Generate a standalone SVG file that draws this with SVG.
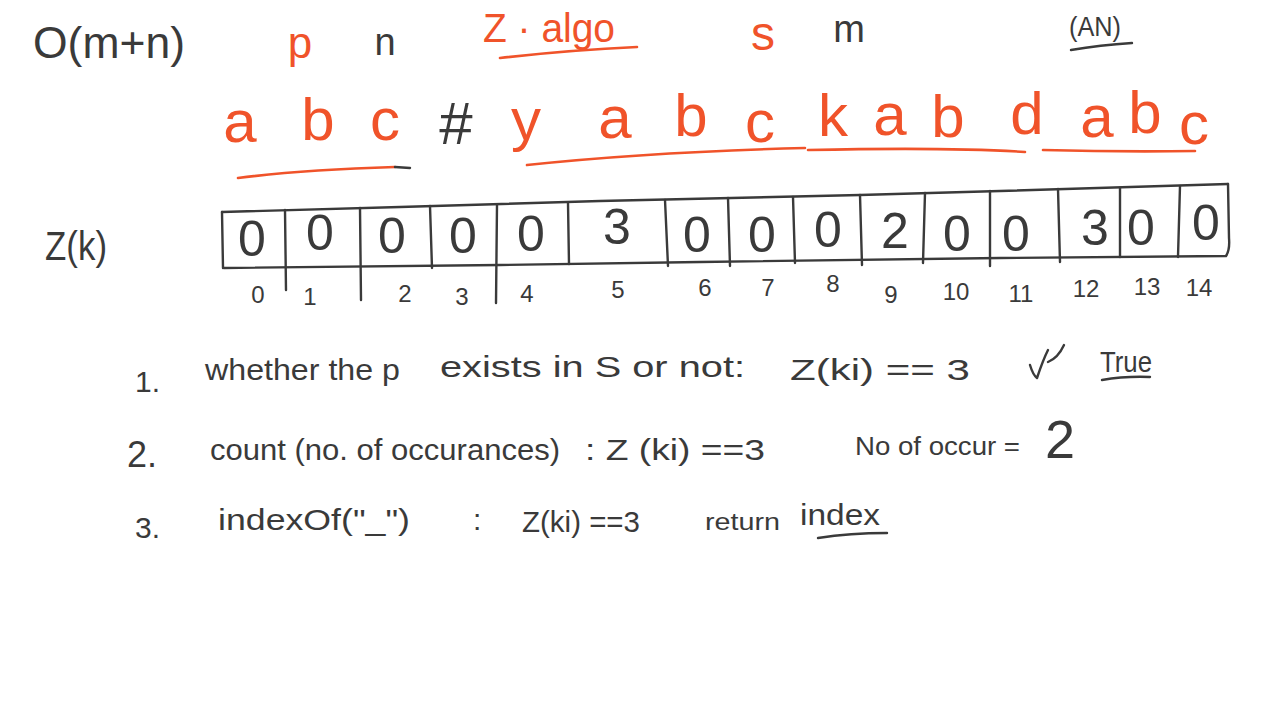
<svg xmlns="http://www.w3.org/2000/svg" width="1280" height="707" viewBox="0 0 1280 707">
<style>
text{font-family:"Liberation Sans","DejaVu Sans",sans-serif;}
.k{fill:#3a3a3a;}
.o{fill:#f0532a;}
.ks{fill:none;stroke:#3a3a3a;stroke-width:2.4;stroke-linecap:round;stroke-linejoin:round;}
.os{fill:none;stroke:#f0532a;stroke-width:2.6;stroke-linecap:round;}
.big{font-size:44px;}
.row{font-size:60px;text-anchor:middle;}
.cell{font-size:50px;text-anchor:middle;fill:#3a3a3a;}
.idx{font-size:24px;text-anchor:middle;fill:#3a3a3a;}
.ln{font-size:30px;fill:#3a3a3a;}
</style>
<rect width="1280" height="707" fill="#ffffff"/>
<g id="header">
<text class="k big" x="33" y="58" textLength="152" lengthAdjust="spacingAndGlyphs">O(m+n)</text>
<text class="o big" x="300" y="58" text-anchor="middle">p</text>
<text class="k" x="385" y="55" font-size="38" text-anchor="middle">n</text>
<text class="o" x="483" y="42" font-size="40" textLength="132" lengthAdjust="spacingAndGlyphs">Z · algo</text>
<path class="os" d="M500,58 Q570,50 637,47"/>
<text class="o" x="763" y="50" font-size="48" text-anchor="middle">s</text>
<text class="k" x="849" y="42" font-size="38" text-anchor="middle">m</text>
<text class="k" x="1095" y="36" font-size="28" text-anchor="middle" textLength="52" lengthAdjust="spacingAndGlyphs">(AN)</text>
<path class="ks" d="M1071,50 Q1100,45 1132,43"/>
</g>
<g id="string">
<text class="o row" x="240" y="142">a</text>
<text class="o row" x="318" y="140">b</text>
<text class="o row" x="385" y="140">c</text>
<text class="k row" x="456" y="144">#</text>
<text class="o row" x="526" y="140">y</text>
<text class="o row" x="615" y="138">a</text>
<text class="o row" x="691" y="136">b</text>
<text class="o row" x="760" y="142">c</text>
<text class="o row" x="833" y="136">k</text>
<text class="o row" x="890" y="135">a</text>
<text class="o row" x="948" y="137">b</text>
<text class="o row" x="1027" y="134">d</text>
<text class="o row" x="1097" y="137">a</text>
<text class="o row" x="1145" y="133">b</text>
<text class="o row" x="1194" y="144">c</text>
<path class="os" d="M238,178 Q300,170 395,167"/>
<path class="ks" d="M395,167 L410,168"/>
<path class="os" d="M527,165 Q650,152 805,148"/>
<path class="os" d="M808,150 Q950,147 1025,152"/>
<path class="os" d="M1043,150 Q1120,152 1195,151"/>
</g>
<g id="zarray">
<text class="k" x="76" y="260" font-size="40" text-anchor="middle" textLength="62" lengthAdjust="spacingAndGlyphs">Z(k)</text>
<path class="ks" d="M222,212 L400,207 L600,201 L860,195 L1000,191 L1228,184"/>
<path class="ks" d="M224,268 L500,265 L700,262 L1000,258 L1226,256 Q1230,250 1229,238 L1228,184"/>
<path class="ks" d="M222,212 L223,268"/>
<path class="ks" d="M285,210 L286,290 M360,208 L361,300 M430,206 L432,268 M497,205 L496,303 M568,203 L569,264 M665,200 L668,266 M728,198 L730,266 M793,197 L795,263 M860,195 L862,265 M925,193 L923,263 M990,191 L990,266 M1058,189 L1060,262 M1120,188 L1120,257 M1180,186 L1178,257"/>
<text class="cell" x="252" y="256">0</text>
<text class="cell" x="320" y="250">0</text>
<text class="cell" x="392" y="253">0</text>
<text class="cell" x="463" y="253">0</text>
<text class="cell" x="531" y="251">0</text>
<text class="cell" x="617" y="244">3</text>
<text class="cell" x="697" y="252">0</text>
<text class="cell" x="762" y="252">0</text>
<text class="cell" x="828" y="247">0</text>
<text class="cell" x="895" y="248">2</text>
<text class="cell" x="957" y="251">0</text>
<text class="cell" x="1016" y="251">0</text>
<text class="cell" x="1095" y="245">3</text>
<text class="cell" x="1141" y="245">0</text>
<text class="cell" x="1206" y="240">0</text>
<text class="idx" x="258" y="303">0</text>
<text class="idx" x="310" y="305">1</text>
<text class="idx" x="405" y="302">2</text>
<text class="idx" x="462" y="305">3</text>
<text class="idx" x="527" y="302">4</text>
<text class="idx" x="618" y="298">5</text>
<text class="idx" x="705" y="296">6</text>
<text class="idx" x="768" y="296">7</text>
<text class="idx" x="833" y="292">8</text>
<text class="idx" x="891" y="303">9</text>
<text class="idx" x="956" y="300">10</text>
<text class="idx" x="1021" y="302">11</text>
<text class="idx" x="1086" y="297">12</text>
<text class="idx" x="1147" y="295">13</text>
<text class="idx" x="1199" y="296">14</text>
</g>
<g id="line1">
<text class="ln" x="135" y="392">1.</text>
<text class="ln" x="205" y="380" textLength="195" lengthAdjust="spacingAndGlyphs">whether the p</text>
<text class="ln" x="440" y="377" textLength="305" lengthAdjust="spacingAndGlyphs">exists in S or not:</text>
<text class="ln" x="790" y="380" textLength="180" lengthAdjust="spacingAndGlyphs">Z(ki) == 3</text>
<path class="ks" d="M1030,365 Q1033,375 1037,378 Q1043,360 1048,350 M1048,362 Q1058,358 1064,345"/>
<text class="ln" x="1100" y="372" textLength="52" lengthAdjust="spacingAndGlyphs">True</text>
<path class="ks" d="M1102,380 Q1125,376 1150,377"/>
</g>
<g id="line2">
<text class="ln" x="127" y="467" style="font-size:36px">2.</text>
<text class="ln" x="210" y="460" textLength="350" lengthAdjust="spacingAndGlyphs">count (no. of occurances)</text>
<text class="ln" x="585" y="460" textLength="180" lengthAdjust="spacingAndGlyphs">: Z (ki) ==3</text>
<text class="ln" x="855" y="455" style="font-size:26px" textLength="165" lengthAdjust="spacingAndGlyphs">No of occur =</text>
<text class="ln" x="1060" y="458" style="font-size:54px" text-anchor="middle">2</text>
</g>
<g id="line3">
<text class="ln" x="135" y="538">3.</text>
<text class="ln" x="218" y="530" textLength="192" lengthAdjust="spacingAndGlyphs">indexOf("_")</text>
<text class="ln" x="473" y="530">:</text>
<text class="ln" x="522" y="532" textLength="118" lengthAdjust="spacingAndGlyphs">Z(ki) ==3</text>
<text class="ln" x="705" y="530" style="font-size:24px" textLength="75" lengthAdjust="spacingAndGlyphs">return</text>
<text class="ln" x="800" y="525" textLength="80" lengthAdjust="spacingAndGlyphs">index</text>
<path class="ks" d="M818,538 Q850,533 887,533"/>
</g>
</svg>
